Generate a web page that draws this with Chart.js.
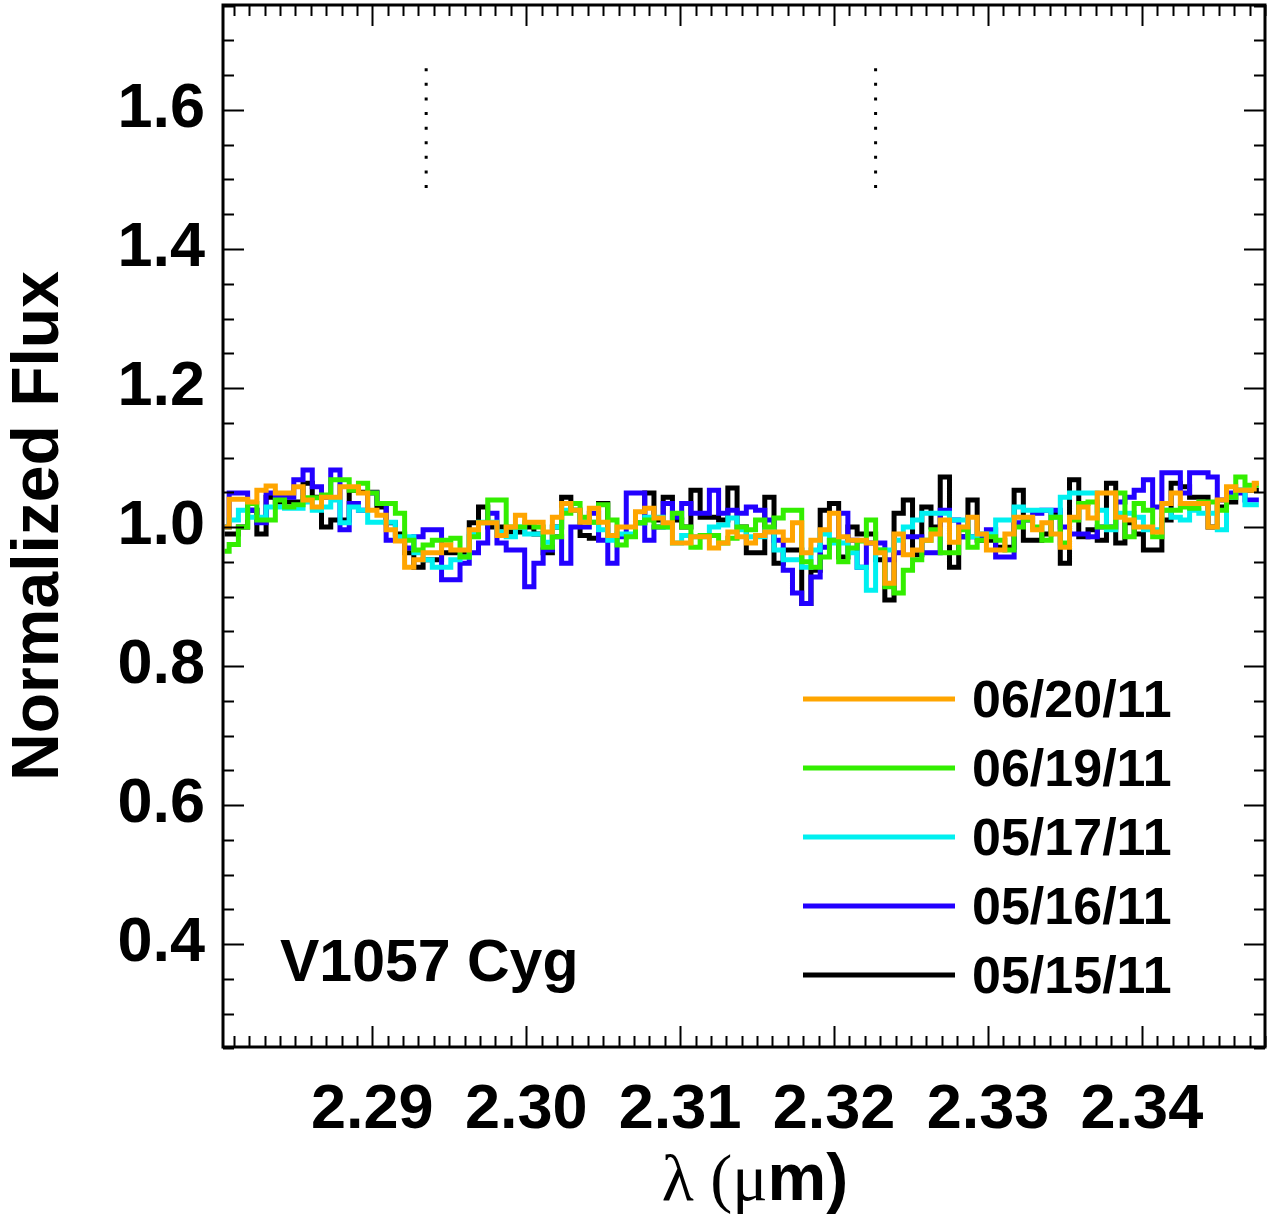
<!DOCTYPE html>
<html>
<head>
<meta charset="utf-8">
<script src="https://cdn.jsdelivr.net/npm/chart.js@4.4.0/dist/chart.umd.min.js"></script>
<style>
  html, body { margin: 0; padding: 0; background: #fff; }
  #wrap { width: 1270px; height: 1219px; }
</style>
</head>
<body>
<div id="wrap"><canvas id="spec"></canvas></div>
<script>
// ====== Data ======
const wavelength = [
  2.2804, 2.2810, 2.2816, 2.2822, 2.2828, 2.2834, 2.2840, 2.2846, 2.2852, 2.2858,
  2.2864, 2.2870, 2.2876, 2.2882, 2.2888, 2.2894, 2.2900, 2.2906, 2.2912, 2.2918,
  2.2924, 2.2930, 2.2936, 2.2942, 2.2948, 2.2954, 2.2960, 2.2966, 2.2972, 2.2978,
  2.2984, 2.2990, 2.2996, 2.3002, 2.3008, 2.3014, 2.3020, 2.3026, 2.3032, 2.3038,
  2.3044, 2.3050, 2.3056, 2.3062, 2.3068, 2.3074, 2.3080, 2.3086, 2.3092, 2.3098,
  2.3104, 2.3110, 2.3116, 2.3122, 2.3128, 2.3134, 2.3140, 2.3146, 2.3152, 2.3158,
  2.3164, 2.3170, 2.3176, 2.3182, 2.3188, 2.3194, 2.3200, 2.3206, 2.3212, 2.3218,
  2.3224, 2.3230, 2.3236, 2.3242, 2.3248, 2.3254, 2.3260, 2.3266, 2.3272, 2.3278,
  2.3284, 2.3290, 2.3296, 2.3302, 2.3308, 2.3314, 2.3320, 2.3326, 2.3332, 2.3338,
  2.3344, 2.3350, 2.3356, 2.3362, 2.3368, 2.3374, 2.3380, 2.3386, 2.3392, 2.3398,
  2.3404, 2.3410, 2.3416, 2.3422, 2.3428, 2.3434, 2.3440, 2.3446, 2.3452, 2.3458,
  2.3464, 2.3470, 2.3476
];

const flux0620 = [
  1.000, 1.040, 1.040, 1.036, 1.053, 1.059, 1.049, 1.049, 1.058, 1.039,
  1.029, 1.043, 1.043, 1.058, 1.058, 1.049, 1.024, 1.017, 0.996, 0.980,
  0.942, 0.953, 0.963, 0.963, 0.974, 0.967, 0.967, 0.996, 1.006, 1.006,
  0.988, 1.000, 1.017, 1.007, 1.007, 0.993, 1.014, 1.034, 1.024, 1.007,
  1.027, 1.007, 0.988, 1.000, 1.000, 1.022, 1.027, 1.013, 1.006, 0.977,
  0.977, 0.986, 0.986, 0.970, 0.977, 0.993, 0.986, 0.977, 0.988, 0.993,
  0.993, 0.981, 1.006, 0.963, 0.981, 0.996, 1.020, 0.986, 0.981, 0.981,
  0.977, 0.963, 0.919, 0.990, 0.960, 0.967, 0.981, 0.990, 1.010, 0.978,
  1.000, 1.014, 0.990, 0.967, 0.967, 0.990, 1.014, 1.014, 0.996, 1.006,
  0.990, 0.971, 1.014, 1.029, 1.013, 1.049, 1.049, 1.014, 1.010, 1.000,
  1.000, 0.993, 1.034, 1.049, 1.034, 1.034, 1.034, 1.000, 1.039, 1.058,
  1.053, 1.053, 1.063
];

const flux0619 = [
  0.965, 0.975, 1.000, 1.034, 1.010, 1.010, 1.039, 1.029, 1.032, 1.042,
  1.042, 1.046, 1.068, 1.068, 1.053, 1.063, 1.049, 1.034, 1.034, 1.020,
  0.981, 0.967, 0.974, 0.981, 0.981, 0.984, 0.957, 0.986, 1.006, 1.039,
  1.039, 1.000, 1.000, 1.006, 1.000, 0.971, 0.986, 1.020, 1.034, 1.014,
  1.007, 1.032, 1.010, 0.974, 0.986, 1.006, 1.010, 1.000, 1.000, 1.020,
  1.000, 0.971, 0.988, 0.988, 0.977, 0.984, 1.000, 0.996, 1.010, 1.000,
  1.013, 1.024, 1.024, 0.950, 0.942, 0.957, 0.981, 0.950, 0.970, 0.980,
  1.010, 0.967, 0.914, 0.905, 0.938, 0.953, 0.981, 0.996, 0.963, 0.963,
  0.996, 0.971, 0.981, 0.986, 0.981, 0.967, 1.000, 1.010, 1.000, 0.981,
  1.014, 0.977, 1.010, 1.034, 1.036, 1.000, 1.000, 1.049, 0.986, 1.034,
  1.024, 0.986, 1.024, 1.024, 1.029, 1.027, 1.036, 1.036, 1.024, 1.043,
  1.072, 1.060, 1.060
];

const flux0517 = [
  1.000, 1.010, 1.024, 1.014, 1.014, 1.029, 1.029, 1.027, 1.027, 1.036,
  1.024, 1.029, 1.039, 1.006, 1.029, 1.024, 1.007, 1.007, 1.007, 0.986,
  0.986, 0.963, 0.953, 0.942, 0.942, 0.953, 0.957, 0.990, 1.007, 1.007,
  0.993, 0.986, 1.000, 0.990, 0.990, 0.978, 1.000, 1.024, 1.024, 1.013,
  1.007, 0.996, 0.981, 0.990, 0.990, 1.006, 1.014, 1.014, 1.000, 0.977,
  0.988, 0.986, 0.986, 1.000, 1.003, 1.013, 0.996, 0.986, 0.986, 0.996,
  0.967, 0.953, 0.953, 0.942, 0.967, 0.990, 0.977, 0.977, 0.963, 0.942,
  0.909, 0.967, 0.967, 0.981, 1.000, 1.010, 1.020, 1.020, 1.020, 1.010,
  1.010, 0.986, 0.990, 0.990, 1.010, 1.010, 1.029, 1.024, 1.024, 1.024,
  1.014, 1.043, 1.049, 1.049, 1.049, 1.024, 0.996, 1.020, 1.020, 1.014,
  0.996, 0.996, 1.024, 1.014, 1.010, 1.024, 1.020, 1.020, 0.996, 1.043,
  1.053, 1.032, 1.032
];

const flux0516 = [
  1.000, 1.049, 1.049, 1.024, 1.006, 1.049, 1.043, 1.043, 1.068, 1.082,
  1.058, 1.043, 1.082, 0.996, 1.034, 1.024, 1.049, 1.034, 0.981, 0.981,
  0.970, 0.986, 0.996, 0.996, 0.924, 0.924, 0.948, 0.963, 0.977, 1.020,
  0.977, 0.967, 0.967, 0.914, 0.948, 0.967, 0.986, 0.948, 1.000, 1.000,
  1.020, 0.981, 0.948, 0.986, 1.049, 1.049, 0.981, 1.000, 1.034, 1.014,
  1.034, 1.020, 1.020, 1.053, 1.020, 1.024, 1.020, 1.029, 1.024, 1.010,
  0.981, 0.938, 0.905, 0.890, 0.928, 0.971, 0.981, 1.020, 0.981, 0.942,
  0.977, 0.977, 0.953, 0.963, 0.986, 0.986, 0.963, 0.963, 1.024, 1.010,
  0.986, 0.986, 0.986, 0.996, 0.957, 0.957, 1.006, 1.010, 1.020, 1.024,
  1.024, 1.000, 0.990, 0.990, 0.986, 1.000, 1.000, 1.036, 1.043, 1.053,
  1.068, 1.029, 1.078, 1.078, 1.049, 1.078, 1.078, 1.072, 1.039, 1.049,
  1.049, 1.039, 1.039
];

const flux0515 = [
  0.990, 0.990, 1.000, 1.024, 0.990, 1.043, 1.036, 1.036, 1.036, 1.063,
  1.043, 1.000, 1.010, 1.010, 1.053, 1.050, 1.050, 1.029, 1.006, 0.990,
  0.963, 0.942, 0.953, 0.953, 0.963, 0.963, 0.963, 1.006, 1.029, 1.000,
  1.000, 0.993, 0.993, 1.000, 0.990, 0.963, 1.000, 1.043, 1.024, 0.988,
  0.984, 1.034, 0.988, 0.988, 0.988, 1.006, 1.049, 1.010, 1.043, 1.010,
  1.000, 1.053, 1.014, 1.014, 1.010, 1.056, 1.000, 0.963, 0.963, 1.043,
  0.948, 0.967, 0.967, 0.890, 0.938, 1.024, 1.034, 0.957, 1.000, 0.990,
  0.990, 0.953, 0.895, 1.020, 1.039, 0.960, 1.029, 1.000, 1.072, 0.942,
  0.986, 1.039, 0.981, 0.981, 0.971, 0.971, 1.053, 0.981, 0.981, 0.990,
  1.020, 0.948, 1.068, 0.986, 0.996, 0.981, 1.063, 0.977, 1.006, 0.990,
  0.967, 0.967, 1.010, 1.063, 1.058, 1.043, 1.043, 1.000, 1.029, 1.036,
  1.053, 1.053, 1.053
];

const seriesLabels = ['06/20/11', '06/19/11', '05/17/11', '05/16/11', '05/15/11'];
const seriesFlux = [flux0620, flux0619, flux0517, flux0516, flux0515];
const seriesColors = ['#FFA500', '#33EE00', '#00F0F0', '#2200FF', '#000000'];

const xTickValues = [2.29, 2.30, 2.31, 2.32, 2.33, 2.34];
const yTickValues = [0.4, 0.6, 0.8, 1.0, 1.2, 1.4, 1.6];
const bandheads = [2.2935, 2.3227];
const bandheadFlux = [1.487, 1.66];

const starName = 'V1057 Cyg';
const FONT = '"Liberation Sans", Arial, sans-serif';

// ====== Plugins ======

// Box frame with inward major/minor ticks on all four sides
const frameTicks = {
  id: 'frameTicks',
  afterDraw(chart) {
    const { ctx, chartArea: a, scales: { x, y } } = chart;
    ctx.save();
    ctx.strokeStyle = '#000';
    ctx.lineWidth = 2;
    ctx.beginPath();
    for (let k = 2281; k <= 2348; k++) {
      const px = Math.round(x.getPixelForValue(k / 1000)) + 0.5;
      const len = k % 10 === 0 ? 21 : 11;
      ctx.moveTo(px, a.bottom); ctx.lineTo(px, a.bottom - len);
      ctx.moveTo(px, a.top); ctx.lineTo(px, a.top + len);
    }
    for (let k = 5; k <= 35; k++) {
      const py = Math.round(y.getPixelForValue(k * 0.05)) + 0.5;
      const len = k % 4 === 0 ? 21 : 11;
      ctx.moveTo(a.left, py); ctx.lineTo(a.left + len, py);
      ctx.moveTo(a.right, py); ctx.lineTo(a.right - len, py);
    }
    ctx.stroke();
    ctx.lineWidth = 3;
    ctx.strokeRect(a.left, a.top, a.right - a.left, a.bottom - a.top);
    ctx.restore();
  }
};

// Dotted bandhead markers
const bandheadMarks = {
  id: 'bandheadMarks',
  afterDatasetsDraw(chart) {
    const { ctx, scales: { x, y } } = chart;
    ctx.save();
    ctx.strokeStyle = '#000';
    ctx.lineWidth = 3;
    ctx.setLineDash([3, 11.6]);
    bandheads.forEach(w => {
      const px = x.getPixelForValue(w);
      ctx.beginPath();
      ctx.moveTo(px, y.getPixelForValue(bandheadFlux[1]));
      ctx.lineTo(px, y.getPixelForValue(bandheadFlux[0]));
      ctx.stroke();
    });
    ctx.restore();
  }
};

// Legend, star name and axis titles
const annotations = {
  id: 'annotations',
  afterDraw(chart) {
    const { ctx, chartArea: a } = chart;
    ctx.save();
    ctx.fillStyle = '#000';

    // legend
    ctx.font = 'bold 52px ' + FONT;
    ctx.textAlign = 'left';
    ctx.textBaseline = 'alphabetic';
    seriesLabels.forEach((lab, k) => {
      const cy = a.top + 694 + k * 69;
      ctx.strokeStyle = seriesColors[k];
      ctx.lineWidth = 5;
      ctx.beginPath();
      ctx.moveTo(a.left + 580, cy);
      ctx.lineTo(a.left + 732, cy);
      ctx.stroke();
      ctx.fillText(lab, a.left + 749, cy + 18);
    });

    // star name
    ctx.font = 'bold 59px ' + FONT;
    ctx.fillText(starName, a.left + 57, a.top + 976);

    // y title
    ctx.save();
    ctx.translate(40, (a.top + a.bottom) / 2);
    ctx.rotate(-Math.PI / 2);
    ctx.textAlign = 'center';
    ctx.textBaseline = 'middle';
    ctx.font = 'bold 66px ' + FONT;
    ctx.fillText('Normalized Flux', 0, 0);
    ctx.restore();

    // x title: λ (μm)
    const parts = [
      { t: 'λ (μ', f: '66px "Liberation Serif", "Times New Roman", serif' },
      { t: 'm)', f: 'bold 66px ' + FONT }
    ];
    let total = 0;
    parts.forEach(p => { ctx.font = p.f; p.w = ctx.measureText(p.t).width; total += p.w; });
    let tx = 755 - total / 2;
    parts.forEach(p => {
      ctx.font = p.f;
      ctx.fillText(p.t, tx, 1200);
      tx += p.w;
    });
    ctx.restore();
  }
};

// ====== Chart ======
const ctx = document.getElementById('spec').getContext('2d');

new Chart(ctx, {
  type: 'line',
  data: {
    datasets: seriesLabels.map((lab, k) => ({
      label: lab,
      data: wavelength.map((w, i) => ({ x: w, y: seriesFlux[k][i] })),
      borderColor: seriesColors[k],
      backgroundColor: seriesColors[k],
      borderWidth: 5,
      pointRadius: 0,
      stepped: 'middle',
      fill: false
    }))
  },
  options: {
    responsive: true,
    maintainAspectRatio: false,
    animation: false,
    layout: { padding: { top: 5, right: 5, left: 0, bottom: 0 } },
    plugins: {
      legend: { display: false },
      tooltip: { enabled: false }
    },
    scales: {
      x: {
        type: 'linear',
        min: 2.2803,
        max: 2.3480,
        grid: { display: false, drawTicks: false },
        border: { display: false },
        ticks: {
          color: '#000',
          font: { family: FONT, size: 63, weight: 'bold' },
          padding: 26,
          maxRotation: 0,
          autoSkip: false,
          callback: v => v.toFixed(2)
        },
        afterBuildTicks: s => { s.ticks = xTickValues.map(v => ({ value: v })); },
        afterFit: s => {
          s.height = 172;
          s.paddingLeft = 0; s.paddingRight = 0;
        }
      },
      y: {
        min: 0.252,
        max: 1.751,
        grid: { display: false, drawTicks: false },
        border: { display: false },
        ticks: {
          color: '#000',
          font: { family: FONT, size: 63, weight: 'bold' },
          padding: 18,
          callback: v => v.toFixed(1)
        },
        afterBuildTicks: s => { s.ticks = yTickValues.map(v => ({ value: v })); },
        afterFit: s => {
          s.width = 223;
          s.paddingTop = 0; s.paddingBottom = 0;
        }
      }
    }
  },
  plugins: [bandheadMarks, frameTicks, annotations]
});
</script>
</body>
</html>
